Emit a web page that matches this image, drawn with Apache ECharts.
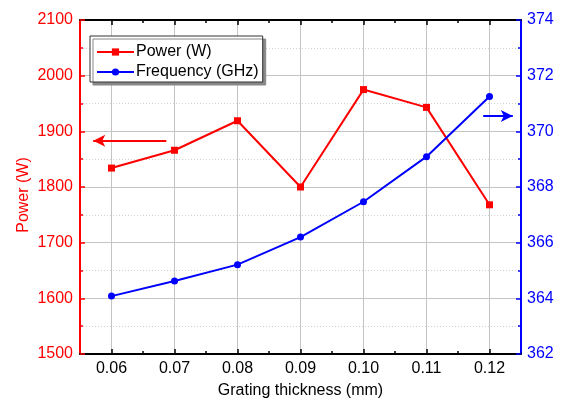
<!DOCTYPE html>
<html>
<head>
<meta charset="utf-8">
<script src="https://cdn.jsdelivr.net/npm/echarts@6/dist/echarts.min.js"></script>
<style>html,body{margin:0;padding:0;background:#fff}#c{width:561px;height:400px}</style>
</head>
<body>
<div id="c"></div>
<script>
const thickness = [0.06, 0.07, 0.08, 0.09, 0.10, 0.11, 0.12];
const power = [1834, 1866, 1919, 1800, 1975, 1943, 1768];
const frequency = [364.08, 364.62, 365.21, 366.20, 367.47, 369.09, 371.25];
const majorX = [0.06, 0.07, 0.08, 0.09, 0.10, 0.11, 0.12];
const minorX = [0.065, 0.075, 0.085, 0.095, 0.105, 0.115];
const powerArrow = [[0.0687, 1883], [0.0571, 1883]];
const freqArrow = [[0.1190, 370.55], [0.1237, 370.55]];

const FONT = '"Liberation Sans", Arial, sans-serif';
const RED = '#ff0000', BLUE = '#0000ff';

function xAx(pos, ticks, opts) {
  return Object.assign({
    type: 'value', position: pos, min: 0.055, max: 0.125,
    axisLine: { show: false },
    axisTick: { show: true, inside: true, customValues: ticks, length: 3, lineStyle: { color: '#000', width: 1.5 } },
    axisLabel: { show: false },
    splitLine: { show: false }
  }, opts || {});
}

const chart = echarts.init(document.getElementById('c'), null, { renderer: 'canvas' });
chart.setOption({
  animation: false,
  backgroundColor: '#fff',
  textStyle: { fontFamily: FONT },
  grid: { left: 80, right: 40, top: 20, bottom: 46, outerBoundsMode: 'none' },
  legend: {
    orient: 'vertical', left: 90, top: 36,
    padding: [8, 4, 2, 6], itemGap: 4, itemWidth: 37, itemHeight: 9,
    backgroundColor: '#fff', borderColor: '#333', borderWidth: 1,
    shadowColor: '#888', shadowOffsetX: 3, shadowOffsetY: 3, shadowBlur: 0,
    textStyle: { fontSize: 16, color: '#000', fontFamily: FONT, padding: [0, 0, 0, -3] },
    data: ['Power (W)', 'Frequency (GHz)']
  },
  xAxis: [
    xAx('bottom', majorX, {
      axisLine: { show: true, lineStyle: { color: '#000', width: 2 } },
      axisTick: { show: true, inside: true, customValues: majorX, length: 5, lineStyle: { color: '#000', width: 1.5 } },
      axisLabel: { show: true, customValues: majorX, formatter: v => Number(v).toFixed(2), fontSize: 16, color: '#000', margin: 7, fontFamily: FONT },
      splitLine: { show: true, lineStyle: { color: '#c4c4c4', width: 1 } },
      name: 'Grating thickness (mm)', nameLocation: 'middle', nameGap: 29,
      nameTextStyle: { fontSize: 16, color: '#000', fontFamily: FONT }
    }),
    xAx('bottom', minorX),
    xAx('top', majorX, {
      axisLine: { show: true, lineStyle: { color: '#000', width: 2 } },
      axisTick: { show: true, inside: true, customValues: majorX, length: 5, lineStyle: { color: '#000', width: 1.5 } }
    }),
    xAx('top', minorX)
  ],
  yAxis: [
    {
      type: 'value', position: 'left', min: 1500, max: 2100, interval: 100,
      axisLine: { show: true, lineStyle: { color: RED, width: 2 } },
      axisTick: { show: true, inside: true, length: 5, lineStyle: { color: RED, width: 1.5 } },
      minorTick: { show: true, splitNumber: 2, length: 3, lineStyle: { color: RED, width: 1.5 } },
      axisLabel: { color: RED, fontSize: 16, margin: 7, fontFamily: FONT, formatter: v => String(v) },
      splitLine: { show: true, lineStyle: { color: '#c4c4c4', width: 1 } },
      minorSplitLine: { show: true, lineStyle: { color: '#d0d0d0', width: 1, type: [1, 2] } },
      name: 'Power (W)', nameLocation: 'middle', nameRotate: 90, nameGap: 48, nameMoveOverlap: false,
      nameTextStyle: { color: RED, fontSize: 16, fontFamily: FONT, padding: [0, 16, 0, 0] }
    },
    {
      type: 'value', position: 'right', min: 362, max: 374, interval: 2,
      axisLine: { show: true, lineStyle: { color: BLUE, width: 2 } },
      axisTick: { show: true, inside: true, length: 5, lineStyle: { color: BLUE, width: 1.5 } },
      minorTick: { show: true, splitNumber: 2, length: 3, lineStyle: { color: BLUE, width: 1.5 } },
      axisLabel: { color: BLUE, fontSize: 16, margin: 6, fontFamily: FONT, formatter: v => String(v) },
      splitLine: { show: false }
    }
  ],
  series: [
    {
      name: 'Power (W)', type: 'line', xAxisIndex: 0, yAxisIndex: 0,
      data: thickness.map((t, i) => [t, power[i]]),
      symbol: 'rect', symbolSize: 7,
      lineStyle: { color: RED, width: 2 }, itemStyle: { color: RED },
      markLine: {
        silent: true, symbol: ['none', 'arrow'], symbolSize: [9, 12],
        label: { show: false },
        lineStyle: { color: RED, width: 2, type: 'solid' },
        data: [[{ coord: powerArrow[0] }, { coord: powerArrow[1] }]]
      }
    },
    {
      name: 'Frequency (GHz)', type: 'line', xAxisIndex: 0, yAxisIndex: 1,
      data: thickness.map((t, i) => [t, frequency[i]]),
      symbol: 'circle', symbolSize: 7,
      lineStyle: { color: BLUE, width: 2 }, itemStyle: { color: BLUE },
      markLine: {
        silent: true, symbol: ['none', 'arrow'], symbolSize: [9, 12],
        label: { show: false },
        lineStyle: { color: BLUE, width: 2, type: 'solid' },
        data: [[{ coord: freqArrow[0] }, { coord: freqArrow[1] }]]
      }
    }
  ]
});
</script>
</body>
</html>
